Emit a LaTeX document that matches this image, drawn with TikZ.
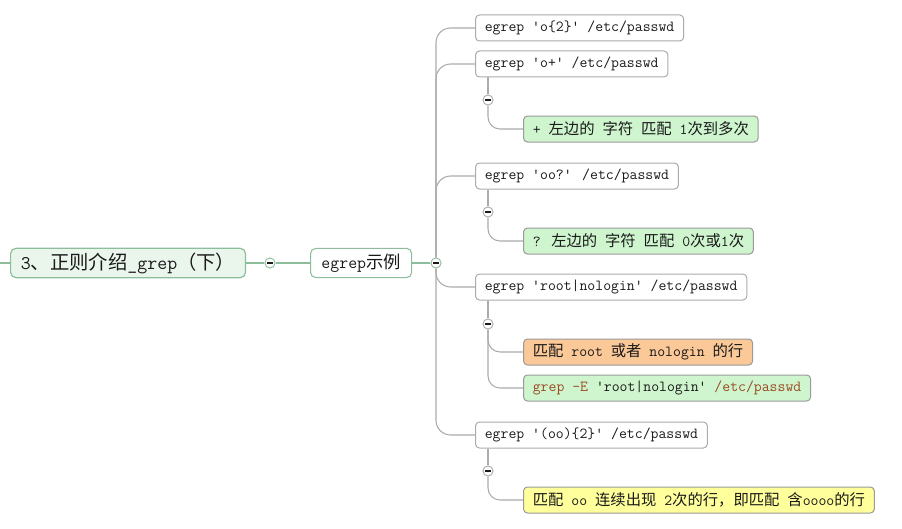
\documentclass[tikz,border=0pt]{standalone}
\usepackage{fontspec}
\newfontfamily\zhfont{Noto Sans CJK SC}
\newcommand\zhtxt[1]{{\zhfont #1}}
\usetikzlibrary{positioning,calc}
\definecolor{rootfill}{HTML}{EAF5EC}
\definecolor{rootedge}{HTML}{8DBE9C}
\definecolor{linegray}{HTML}{ABABAB}
\definecolor{notegreen}{HTML}{CEF5CE}
\definecolor{noteorange}{HTML}{FBC897}
\definecolor{noteyellow}{HTML}{FFFF9C}
\definecolor{txt}{HTML}{1A1A1A}
\definecolor{cmdbrown}{HTML}{9C4A22}

\begin{document}
\begin{tikzpicture}
        [   x = 0.75pt
        ,   y = -0.75pt
        ,   every node/.style =
            {   text = txt
            ,   inner ysep = 0pt
            ,   anchor = west
            }
        ,   rootbox/.style =
            {   draw = rootedge
            ,   fill = rootfill
            ,   line width = 0.9pt
            ,   rounded corners = 4pt
            ,   minimum height = 22pt
            ,   inner xsep = 7.7pt
            ,   font = \fontsize{14.5}{16}\ttfamily
            }
        ,   midbox/.style =
            {   draw = rootedge
            ,   fill = white
            ,   line width = 0.8pt
            ,   rounded corners = 4pt
            ,   minimum height = 22pt
            ,   inner xsep = 8.2pt
            ,   font = \fontsize{13}{15}\ttfamily
            }
        ,   topic/.style =
            {   draw = linegray
            ,   fill = white
            ,   line width = 0.75pt
            ,   rounded corners = 3pt
            ,   minimum height = 19.5pt
            ,   inner xsep = 7pt
            ,   font = \fontsize{11.5}{13}\ttfamily
            }
        ,   notebox/.style =
            {   topic
            ,   draw = linegray!90!black
            ,   fill = #1
            }
        ,   foldmark/.style =
            {   circle
            ,   draw = #1
            ,   fill = white
            ,   line width = 0.7pt
            ,   minimum size = 7.6pt
            ,   inner sep = 0pt
            ,   anchor = center
            ,   path picture =
                {   \draw[line width = 1pt, txt]
                    ([xshift = -1.9pt]path picture bounding box.center)
                    -- ([xshift = 1.9pt]path picture bounding box.center);
                }
            }
        ,   rootline/.style = { draw = rootedge, line width = 0.8pt }
        ,   trunkline/.style = { draw = linegray, line width = 0.8pt, rounded corners = 11pt }
        ,   subline/.style = { draw = linegray, line width = 0.8pt, rounded corners = 9pt }
        ]
        \useasboundingbox (0,0) rectangle (902,528);

        \coordinate (edge) at (0,263);
        \node[rootbox] (root) at (10,263) {3\zhtxt{、正则介绍}\_grep\zhtxt{（下）}};
        \node[foldmark = rootedge] (f0) at (270,263) {};
        \node[midbox] (ex) at (310,263) {egrep\zhtxt{示例}};
        \node[foldmark = rootedge] (f1) at (436,263) {};

        \node[topic] (k1) at (475,28) {egrep 'o\{2\}' /etc/passwd};
        \node[topic] (k2) at (475,64) {egrep 'o+' /etc/passwd};
        \node[topic] (k3) at (475,176) {egrep 'oo?' /etc/passwd};
        \node[topic] (k4) at (475,287) {egrep 'root|nologin' /etc/passwd};
        \node[topic] (k5) at (475,435) {egrep '(oo)\{2\}' /etc/passwd};

        \node[foldmark = linegray] (f2) at (488,100) {};
        \node[foldmark = linegray] (f3) at (488,212) {};
        \node[foldmark = linegray] (f4) at (488,324) {};
        \node[foldmark = linegray] (f5) at (488,471) {};

        \node[notebox = notegreen] (n2) at (523,129)
            {+ \zhtxt{左边的} \zhtxt{字符} \zhtxt{匹配} 1\zhtxt{次到多次}};
        \node[notebox = notegreen] (n3) at (523,241)
            {? \zhtxt{左边的} \zhtxt{字符} \zhtxt{匹配} 0\zhtxt{次或}1\zhtxt{次}};
        \node[notebox = noteorange] (n4a) at (523,352)
            {\zhtxt{匹配} root \zhtxt{或者} nologin \zhtxt{的行}};
        \node[notebox = notegreen] (n4b) at (523,388)
            {\textcolor{cmdbrown}{grep -E} 'root|nologin' \textcolor{cmdbrown}{/etc/passwd}};
        \node[notebox = noteyellow] (n5) at (523,500)
            {\zhtxt{匹配} oo \zhtxt{连续出现} 2\zhtxt{次的行，即匹配} \zhtxt{含}oooo\zhtxt{的行}};

        \draw[rootline] (edge) -- (root.west);
        \draw[rootline] (root.east) -- (f0);
        \draw[rootline] (f0) -- (ex.west);
        \draw[rootline] (ex.east) -- (f1);

        \draw[trunkline] (f1) |- (k1.west);
        \draw[trunkline] (f1) |- (k2.west);
        \draw[trunkline] (f1) |- (k3.west);
        \draw[trunkline] (f1) |- (k4.west);
        \draw[trunkline] (f1) |- (k5.west);

        \draw[subline] (k2.south -| f2) -- (f2);
        \draw[subline] (f2) |- (n2.west);
        \draw[subline] (k3.south -| f3) -- (f3);
        \draw[subline] (f3) |- (n3.west);
        \draw[subline] (k4.south -| f4) -- (f4);
        \draw[subline] (f4) |- (n4a.west);
        \draw[subline] (f4) |- (n4b.west);
        \draw[subline] (k5.south -| f5) -- (f5);
        \draw[subline] (f5) |- (n5.west);
    \end{tikzpicture}
\end{document}
